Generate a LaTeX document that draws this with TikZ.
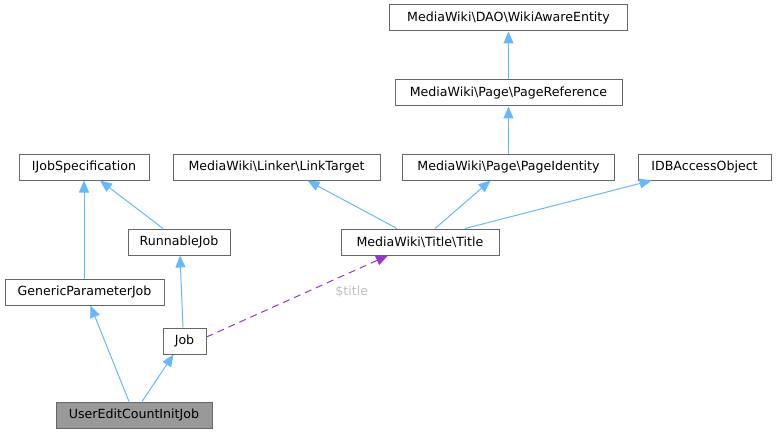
\documentclass[tikz,border=0pt]{standalone}
\usepackage{fontspec}
\setmainfont{DejaVu Sans}
\usetikzlibrary{arrows.meta}
\definecolor{edgeblue}{HTML}{63B8FF}
\definecolor{boxgray}{HTML}{666666}
\definecolor{purp}{HTML}{9A32CD}
\definecolor{lblgray}{HTML}{BFBFBF}
\definecolor{curfill}{HTML}{999999}
\tikzset{
  cls/.style={draw=boxgray, line width=1pt, fill=white, minimum height=26pt, inner sep=0pt,
    font=\fontsize{12.6}{14}\selectfont, text=black},
  inh/.style={draw=edgeblue, line width=1pt, -{Triangle[length=12pt,width=10pt]}},
  use/.style={draw=purp, line width=1pt, dash pattern=on 7pt off 5pt, -{Triangle[length=12pt,width=10pt]}},
}
\begin{document}
\begin{tikzpicture}[x=1pt,y=-1pt]
\useasboundingbox (0,0) rectangle (776,433);
\node[cls, minimum width=238pt] (wae) at (508.5,18) {MediaWiki\textbackslash DAO\textbackslash WikiAwareEntity};
\node[cls, minimum width=227pt] (pr) at (508.5,93) {MediaWiki\textbackslash Page\textbackslash PageReference};
\node[cls, minimum width=130pt] (ijs) at (84,167) {IJobSpecification};
\node[cls, minimum width=207pt] (lt) at (276.5,167) {MediaWiki\textbackslash Linker\textbackslash LinkTarget};
\node[cls, minimum width=212pt] (pi) at (508.5,167) {MediaWiki\textbackslash Page\textbackslash PageIdentity};
\node[cls, minimum width=133pt] (idb) at (704.5,167) {IDBAccessObject};
\node[cls, minimum width=102pt] (rj) at (179,242) {RunnableJob};
\node[cls, minimum width=158pt] (title) at (420,242) {MediaWiki\textbackslash Title\textbackslash Title};
\node[cls, minimum width=159pt] (gpj) at (84.5,292) {GenericParameterJob};
\node[cls, minimum width=43pt] (job) at (184.5,341) {Job};
\node[cls, minimum width=156pt, fill=curfill] (ue) at (134,415) {UserEditCountInitJob};

\draw[inh] (pr.north) -- (wae.south);
\draw[inh] (pi.north) -- (pr.south);
\draw[inh] ([xshift=-23pt]title.north) -- ([xshift=31pt]lt.south);
\draw[inh] ([xshift=15pt]title.north) -- ([xshift=-18pt]pi.south);
\draw[inh] ([xshift=45pt]title.north) -- ([xshift=-53pt]idb.south);
\draw[inh] ([xshift=-16pt]rj.north) -- ([xshift=16pt]ijs.south);
\draw[inh] (gpj.north -| ijs.south) -- (ijs.south);
\draw[inh] ([xshift=-1.5pt]job.north) -- ([xshift=1pt]rj.south);
\draw[inh] ([xshift=-5pt]ue.north) -- ([xshift=6pt]gpj.south);
\draw[inh] ([xshift=8pt]ue.north) -- ([xshift=-11pt]job.south);
\draw[use] ([yshift=4pt]job.east) -- ([xshift=-32pt]title.south) node[pos=0.8, below=10pt, font=\fontsize{12.6}{14}\selectfont, text=lblgray] (lbl) {\$title};
\end{tikzpicture}
\end{document}
